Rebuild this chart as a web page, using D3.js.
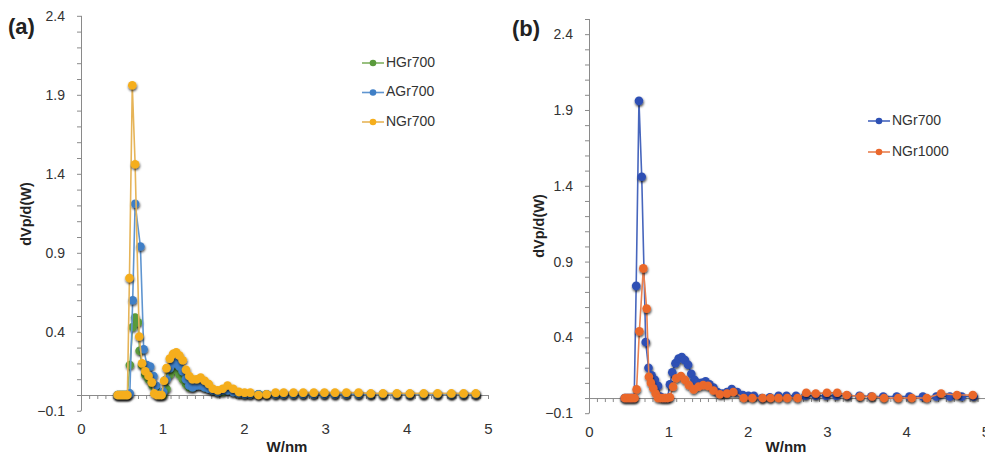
<!DOCTYPE html>
<html>
<head>
<meta charset="utf-8">
<script src="https://cdn.jsdelivr.net/npm/d3@7"></script>
<style>
	body { margin: 0; background: #fff; }
	text { font-family: "Liberation Sans", Arial, sans-serif; }
</style>
</head>
<body>
<div id="vizContainer"></div>
<script>
let w = 985;
let h = 454;

// tail grid shared by the 700 C samples
let tailW = [2.01, 2.08, 2.18, 2.28, 2.39, 2.49, 2.61, 2.73, 2.86, 2.99, 3.12, 3.26, 3.41, 3.56, 3.71, 3.88, 4.04, 4.21, 4.38, 4.55, 4.7, 4.85];

let hgr700W = [0.45, 0.47, 0.49, 0.51, 0.53, 0.55, 0.57, 0.6, 0.635, 0.665, 0.7, 0.72, 0.75, 0.79, 0.83, 0.88, 0.92, 0.95, 0.98, 1.01,
	1.05, 1.09, 1.13, 1.17, 1.21, 1.25, 1.29, 1.33, 1.37, 1.42, 1.47, 1.52, 1.57, 1.62, 1.68, 1.74, 1.8, 1.87, 1.94].concat(tailW);
let hgr700V = [0, 0, 0, 0, 0, 0, 0, 0.19, 0.43, 0.49, 0.46, 0.28, 0.19, 0.13, 0.1, 0.06, 0.03, 0, 0, 0,
	0.04, 0.13, 0.16, 0.16, 0.13, 0.1, 0.07, 0.05, 0.05, 0.06, 0.06, 0.05, 0.04, 0.03, 0.02, 0.02, 0.03, 0.02, 0.01,
	0.005, 0.005, 0.005, 0.005, 0.005, 0.005, 0.005, 0.005, 0.005, 0.005, 0.005, 0.005, 0.005, 0.005, 0.005, 0.005, 0.005, 0.005, 0.005, 0.005, 0.005, 0.005];

let agr700W = [0.45, 0.47, 0.49, 0.51, 0.53, 0.55, 0.57, 0.6, 0.635, 0.665, 0.73, 0.77, 0.81, 0.85, 0.89, 0.92, 0.95, 0.98, 1.01,
	1.05, 1.09, 1.13, 1.17, 1.21, 1.25, 1.29, 1.33, 1.37, 1.42, 1.47, 1.52, 1.57, 1.62, 1.68, 1.74, 1.8, 1.87, 1.94].concat(tailW);
let agr700V = [0, 0, 0, 0, 0, 0, 0, 0.01, 0.6, 1.21, 0.94, 0.29, 0.19, 0.18, 0.12, 0.06, 0, 0, 0.02,
	0.1, 0.17, 0.2, 0.2, 0.18, 0.15, 0.1, 0.06, 0.05, 0.06, 0.06, 0.05, 0.04, 0.03, 0.02, 0.03, 0.03, 0.02, 0.01,
	0.005, 0.005, 0.005, 0.005, 0.005, 0.005, 0.005, 0.005, 0.005, 0.005, 0.005, 0.005, 0.005, 0.005, 0.005, 0.005, 0.005, 0.005, 0.005, 0.005, 0.005, 0.005];

let ngr700W = [0.45, 0.47, 0.49, 0.51, 0.53, 0.55, 0.57, 0.595, 0.63, 0.665, 0.715, 0.75, 0.79, 0.83, 0.87, 0.9, 0.93, 0.96, 0.99,
	1.02, 1.05, 1.09, 1.13, 1.17, 1.21, 1.25, 1.29, 1.33, 1.37, 1.42, 1.47, 1.52, 1.57, 1.62, 1.68, 1.74, 1.8, 1.87, 1.94].concat(tailW);
let ngr700V = [0, 0, 0, 0, 0, 0, 0, 0.74, 1.96, 1.46, 0.37, 0.2, 0.15, 0.12, 0.08, 0.01, 0, 0, 0,
	0.09, 0.17, 0.23, 0.26, 0.27, 0.25, 0.22, 0.16, 0.12, 0.1, 0.1, 0.11, 0.09, 0.07, 0.04, 0.03, 0.04, 0.06, 0.04, 0.02,
	0.015, 0.015, 0, 0.005, 0.015, 0.015, 0.015, 0.015, 0.015, 0.015, 0.015, 0.015, 0.015, 0.01, 0.01, 0.01, 0.01, 0.01, 0.01, 0.01, 0.01, 0.01];

let ngr1000W = [0.45, 0.47, 0.49, 0.51, 0.53, 0.55, 0.575, 0.6, 0.635, 0.685, 0.727, 0.755, 0.78, 0.81, 0.84, 0.87, 0.9, 0.93, 0.96, 0.99,
	1.02, 1.06, 1.1, 1.16, 1.21, 1.26, 1.32, 1.38, 1.44, 1.5, 1.57, 1.65, 1.74, 1.82, 1.95,
	2.06, 2.19, 2.29, 2.39, 2.5, 2.63, 2.74, 2.86, 3.0, 3.13, 3.25, 3.42, 3.57, 3.72, 3.9, 4.07, 4.26, 4.44, 4.64, 4.84];
let ngr1000V = [0, 0, 0, 0, 0, 0, 0, 0.057, 0.44, 0.855, 0.59, 0.14, 0.1, 0.065, 0.03, 0, 0, 0, 0, 0,
	0.005, 0.075, 0.13, 0.145, 0.12, 0.085, 0.057, 0.075, 0.085, 0.08, 0.05, 0.025, 0.03, 0.04, 0,
	0, 0, 0, 0, 0, 0, 0.035, 0.03, 0.035, 0.035, 0.02, 0.01, 0.01, 0, 0, 0, 0, 0.03, 0.02, 0.02];

let yMajor = [-0.1, 0.4, 0.9, 1.4, 1.9, 2.4];
let xMajor = [0, 1, 2, 3, 4, 5];

let panels = [
	{
		letter: "(a)", letterX: 8, letterY: 34,
		xRange: [81, 488], yTop: 2.4, yRange: [410.8, 15.8],
		ylabX: 27, ylabY: 214, xlabX: 287,
		legX: 362, legY: 63, legStep: 29.5,
		series: [
			{ name: "HGr700", ws: hgr700W, vs: hgr700V, color: "#5a9a3c", line: "#7fb060" },
			{ name: "AGr700", ws: agr700W, vs: agr700V, color: "#3f7fc6", line: "#5f95d0" },
			{ name: "NGr700", ws: ngr700W, vs: ngr700V, color: "#f5ae1c", line: "#e6b458" }
		]
	},
	{
		letter: "(b)", letterX: 512, letterY: 36,
		xRange: [589, 985.5], yTop: 2.5, yRange: [413.2, 19],
		ylabX: 540, ylabY: 226, xlabX: 786,
		legX: 868, legY: 121, legStep: 31,
		series: [
			{ name: "NGr700", ws: ngr700W, vs: ngr700V, color: "#2d50b4", line: "#4766bd" },
			{ name: "NGr1000", ws: ngr1000W, vs: ngr1000V, color: "#ea672b", line: "#e88050" }
		]
	}
];

let viz = d3.select('#vizContainer').append('svg')
	.attr('width', w)
	.attr('height', h)
	.style('background-color', 'white');

let defs = viz.append('defs');
defs.append('filter')
	.attr('id', 'shadow')
	.attr('x', '-50%').attr('y', '-50%').attr('width', '200%').attr('height', '200%')
	.append('feDropShadow')
	.attr('dx', 0.5).attr('dy', 1.6)
	.attr('stdDeviation', 1.1)
	.attr('flood-color', '#000')
	.attr('flood-opacity', 0.75);

function drawPanel(p) {
	let g = viz.append('g');
	let xScale = d3.scaleLinear().domain([0, 5]).range(p.xRange);
	let yScale = d3.scaleLinear().domain([-0.1, p.yTop]).range(p.yRange);

	// y axis: minor ticks every 0.1, labels on majors
	let minorY = d3.range(-0.1, p.yTop + 0.001, 0.1).map(v => Math.round(v * 10) / 10);
	g.append('g')
		.attr('transform', `translate(${p.xRange[0]},0)`)
		.call(d3.axisLeft(yScale).tickValues(minorY).tickSize(4).tickFormat(''))
		.call(a => a.selectAll('path, line').attr('stroke', '#8a8a8a'))
		.call(a => a.select('.domain').attr('d', `M-0.5,${yScale(-0.1)}H0.5V${yScale(p.yTop)}`));

	g.append('g')
		.attr('transform', `translate(${p.xRange[0]},0)`)
		.call(d3.axisLeft(yScale).tickValues(yMajor).tickSize(0).tickPadding(16).tickFormat(d3.format('.1f')))
		.call(a => a.select('.domain').remove())
		.call(a => a.selectAll('text').attr('font-size', 14).attr('fill', '#333').attr('font-family', '"Liberation Sans", Arial, sans-serif'));

	// x axis line at zero with minor ticks
	let minorX = d3.range(0, 50.5, 1).map(v => v / 10);
	g.append('g')
		.attr('transform', `translate(0,${yScale(0)})`)
		.call(d3.axisBottom(xScale).tickValues(minorX).tickSize(4).tickFormat(''))
		.call(a => a.selectAll('path, line').attr('stroke', '#8a8a8a'))
		.call(a => a.select('.domain').attr('d', `M${p.xRange[0]},0.5H${p.xRange[1]}`));

	g.append('g')
		.attr('transform', `translate(0,${yScale(-0.1) + 10})`)
		.call(d3.axisBottom(xScale).tickValues(xMajor).tickSize(0).tickPadding(3).tickFormat(d3.format('d')))
		.call(a => a.select('.domain').remove())
		.call(a => a.selectAll('text').attr('font-size', 15).attr('fill', '#333').attr('font-family', '"Liberation Sans", Arial, sans-serif'));

	// titles
	g.append('text')
		.attr('x', p.letterX).attr('y', p.letterY)
		.attr('font-size', 22).attr('font-weight', 'bold').attr('fill', '#222')
		.text(p.letter);

	g.append('text')
		.attr('transform', `translate(${p.ylabX},${p.ylabY}) rotate(-90)`)
		.attr('text-anchor', 'middle').attr('dominant-baseline', 'middle')
		.attr('font-size', 14.5).attr('font-weight', 'bold').attr('fill', '#222')
		.text('dVp/d(W)');

	g.append('text')
		.attr('x', p.xlabX).attr('y', 452)
		.attr('text-anchor', 'middle')
		.attr('font-size', 15).attr('font-weight', 'bold').attr('fill', '#222')
		.text('W/nm');

	// series
	let line = d3.line().x(d => xScale(d[0])).y(d => yScale(d[1]));
	p.series.forEach(function(s) {
		let pts = d3.zip(s.ws, s.vs);
		let sg = g.append('g');
		sg.append('path')
			.datum(pts)
			.attr('d', line)
			.attr('fill', 'none')
			.attr('stroke', s.line)
			.attr('stroke-width', 1.6);
		sg.append('g')
			.attr('filter', 'url(#shadow)')
			.selectAll('circle')
			.data(pts)
			.enter()
			.append('circle')
			.attr('cx', d => xScale(d[0]))
			.attr('cy', d => yScale(d[1]))
			.attr('r', 4.3)
			.attr('fill', s.color);
	});

	// legend
	let leg = g.append('g');
	p.series.forEach(function(s, i) {
		let y = p.legY + i * p.legStep;
		leg.append('line')
			.attr('x1', p.legX).attr('x2', p.legX + 22)
			.attr('y1', y).attr('y2', y)
			.attr('stroke', s.line).attr('stroke-width', 1.6);
		leg.append('circle')
			.attr('cx', p.legX + 11).attr('cy', y).attr('r', 3.3)
			.attr('fill', s.color);
		leg.append('text')
			.attr('x', p.legX + 24).attr('y', y)
			.attr('dominant-baseline', 'middle')
			.attr('font-size', 14).attr('fill', '#333')
			.text(s.name);
	});
}

panels.forEach(drawPanel);
</script>
</body>
</html>
